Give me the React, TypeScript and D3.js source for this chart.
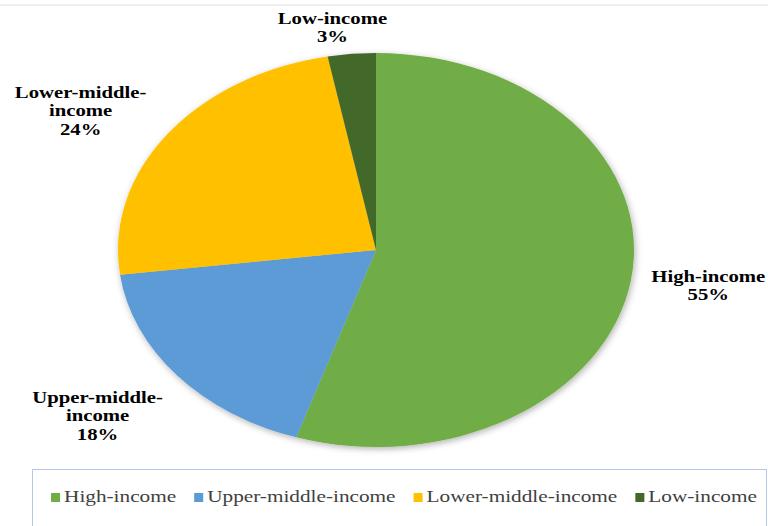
import React, { useEffect, useRef } from "react";
import * as d3 from "d3";

const categories = ["High-income", "Upper-middle-income", "Lower-middle-income", "Low-income"];
const shares = [55, 18, 24, 3];
const colors = ["#70AD47", "#5B9BD5", "#FFC000", "#43682B"];

const W = 768;
const H = 526;
const CX = 376;
const CY = 250;
const RX = 258;
const RY = 197;
const SX = 1.22; // horizontal text stretch of the reference
const LSX = 1.25;
const LABEL_K = 1.3;
const labelNudge: [number, number][] = [
  [1, -5],
  [-20, 2],
  [-24, 11],
  [-12, 32],
];

function wrap(name: string): string[] {
  const i = name.indexOf("middle-");
  if (i >= 0) return [name.slice(0, i + 7), name.slice(i + 7)];
  return [name];
}

export default function App() {
  const ref = useRef<SVGSVGElement | null>(null);

  useEffect(() => {
    const svg = d3.select(ref.current);
    svg.selectAll("*").remove();

    const defs = svg.append("defs");
    const f = defs
      .append("filter")
      .attr("id", "shadow")
      .attr("x", "-10%")
      .attr("y", "-10%")
      .attr("width", "120%")
      .attr("height", "120%");
    f.append("feDropShadow")
      .attr("dx", 1)
      .attr("dy", 2)
      .attr("stdDeviation", 3)
      .attr("flood-color", "#000")
      .attr("flood-opacity", 0.3);

    svg.append("rect").attr("x", 0).attr("y", 0).attr("width", W).attr("height", H).attr("fill", "#fff");
    svg.append("rect").attr("x", 0).attr("y", 4).attr("width", W).attr("height", 2).attr("fill", "#eeeeee");

    const pie = d3
      .pie<number>()
      .sort(null)
      .value((d) => d);
    const arcs = pie(shares);
    const arc = d3.arc<d3.PieArcDatum<number>>().innerRadius(0).outerRadius(RY);

    const g = svg
      .append("g")
      .attr("transform", `translate(${CX},${CY}) scale(${RX / RY},1)`)
      .attr("filter", "url(#shadow)");
    g.selectAll("path")
      .data(arcs)
      .join("path")
      .attr("d", (d) => arc(d) as string)
      .attr("fill", (_d, i) => colors[i]);

    // labels
    const lh = 18.5;
    arcs.forEach((a, i) => {
      const mid = (a.startAngle + a.endAngle) / 2;
      const x = CX + LABEL_K * Math.sin(mid) * RX + labelNudge[i][0];
      const y = CY - LABEL_K * Math.cos(mid) * RY + labelNudge[i][1];
      const lines = [...wrap(categories[i]), `${shares[i]}%`];
      const n = lines.length;
      lines.forEach((ln, j) => {
        const by = y + (j - (n - 1) / 2) * lh + 6;
        svg
          .append("text")
          .attr("transform", `translate(${x},${by}) scale(${SX},1)`)
          .attr("text-anchor", "middle")
          .attr("font-family", "'Liberation Serif', 'Times New Roman', serif")
          .attr("font-weight", "bold")
          .attr("font-size", 17)
          .attr("fill", "#000")
          .text(ln);
      });
    });

    // legend box
    svg
      .append("rect")
      .attr("x", 32.5)
      .attr("y", 469.5)
      .attr("width", 734)
      .attr("height", 80)
      .attr("fill", "#fff")
      .attr("stroke", "#B4C7E7")
      .attr("stroke-width", 1);

    const lg = svg.append("g");
    const sq = 9;
    const gapST = 4;
    const gapItem = 18;
    const items = categories.map((c, i) => {
      const t = lg
        .append("text")
        .attr("text-anchor", "start")
        .attr("font-family", "'Liberation Serif', 'Times New Roman', serif")
        .attr("font-size", 17)
        .attr("fill", "#404040")
        .text(c);
      const w = ((t.node() as SVGTextElement).getComputedTextLength() || 0) * LSX;
      const r = lg.append("rect").attr("width", sq).attr("height", sq).attr("fill", colors[i]);
      return { t, r, w };
    });
    const total = items.reduce((s, it) => s + sq + gapST + it.w, 0) + gapItem * (items.length - 1);
    let x = 404 - total / 2;
    const base = 502;
    items.forEach((it) => {
      it.r.attr("x", x).attr("y", base - sq);
      x += sq + gapST;
      it.t.attr("transform", `translate(${x},${base}) scale(${LSX},1)`);
      x += it.w + gapItem;
    });
  }, []);

  return (
    <svg
      ref={ref}
      width={W}
      height={H}
      viewBox={`0 0 ${W} ${H}`}
      style={{ position: "absolute", left: 0, top: 0, display: "block" }}
    />
  );
}
